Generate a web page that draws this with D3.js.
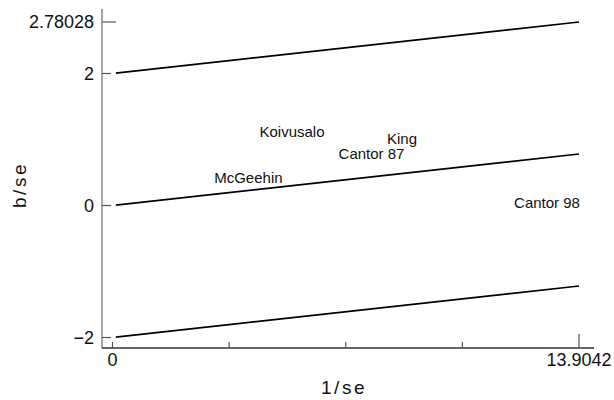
<!DOCTYPE html>
<html><head><meta charset="utf-8">
<script src="https://cdn.jsdelivr.net/npm/d3@7"></script>
<style>body{margin:0;background:#fff}svg{display:block}</style>
</head><body>
<svg id="c" width="614" height="400"></svg>
<script>
const studies = ["McGeehin","Koivusalo","Cantor 87","King","Cantor 98"];
const invSe = [4.05, 5.35, 7.72, 8.63, 12.95];
const bOverSe = [0.42, 1.11, 0.78, 1.01, 0.04];
const xTicks = [0, 3.47605, 6.9521, 10.42815, 13.9042];
const xTickLabels = ["0", "", "", "", "13.9042"];
const yTicks = [-2, 0, 2, 2.78028];
const yTickLabels = ["\u22122", "0", "2", "2.78028"];
const bandOffsets = [-2, 0, 2];
const pooledSlope = 0.78028 / 13.9042;
const lineX = [0.1, 13.9042];

const svg = d3.select("#c");
const font = "'Liberation Sans', Arial, sans-serif";
const x = d3.scaleLinear().domain([0, 13.9042]).range([112.5, 579]);
const y = d3.scaleLinear().domain([-2, 2.78028]).range([337.5, 22]);

const axisColor = "#555";
svg.append("line").attr("x1", 102).attr("x2", 102).attr("y1", 9).attr("y2", 348)
  .attr("stroke", "#777").attr("stroke-width", 1.3);
svg.append("line").attr("x1", 102).attr("x2", 594).attr("y1", 348).attr("y2", 348)
  .attr("stroke", "#333").attr("stroke-width", 1.3);

yTicks.forEach((v, i) => {
  const len = v === 2.78028 ? 14 : 9;
  svg.append("line").attr("x1", 102).attr("x2", 102 + len).attr("y1", y(v)).attr("y2", y(v))
    .attr("stroke", axisColor).attr("stroke-width", 1.2);
  svg.append("text").attr("x", 94).attr("y", y(v)).attr("dy", "0.36em")
    .attr("text-anchor", "end").attr("font-family", font).attr("font-size", 18)
    .attr("fill", "#111").text(yTickLabels[i]);
});
xTicks.forEach((v, i) => {
  const len = i === xTicks.length - 1 ? 14 : 6;
  svg.append("line").attr("x1", x(v)).attr("x2", x(v)).attr("y1", 348).attr("y2", 348 - len)
    .attr("stroke", axisColor).attr("stroke-width", 1.2);
  if (xTickLabels[i]) {
    svg.append("text").attr("x", x(v)).attr("y", 366)
      .attr("text-anchor", "middle").attr("font-family", font).attr("font-size", 18)
      .attr("fill", "#111").text(xTickLabels[i]);
  }
});

const line = d3.line().x(d => x(d[0])).y(d => y(d[1]));
bandOffsets.forEach(off => {
  svg.append("path").datum(lineX.map(t => [t, off + pooledSlope * t]))
    .attr("d", line).attr("fill", "none").attr("stroke", "#000").attr("stroke-width", 1.6);
});

studies.forEach((s, i) => {
  svg.append("text").attr("x", x(invSe[i])).attr("y", y(bOverSe[i])).attr("dy", "0.35em")
    .attr("text-anchor", "middle").attr("font-family", font).attr("font-size", 15)
    .attr("fill", "#111").text(s);
});

svg.append("text").attr("x", 344).attr("y", 394).attr("text-anchor", "middle")
  .attr("font-family", font).attr("font-size", 19).attr("letter-spacing", 2.5)
  .attr("fill", "#111").text("1/se");
svg.append("text").attr("transform", "translate(26,185) rotate(-90)").attr("text-anchor", "middle")
  .attr("font-family", font).attr("font-size", 19).attr("letter-spacing", 2.5)
  .attr("fill", "#111").text("b/se");
</script>
</body></html>
